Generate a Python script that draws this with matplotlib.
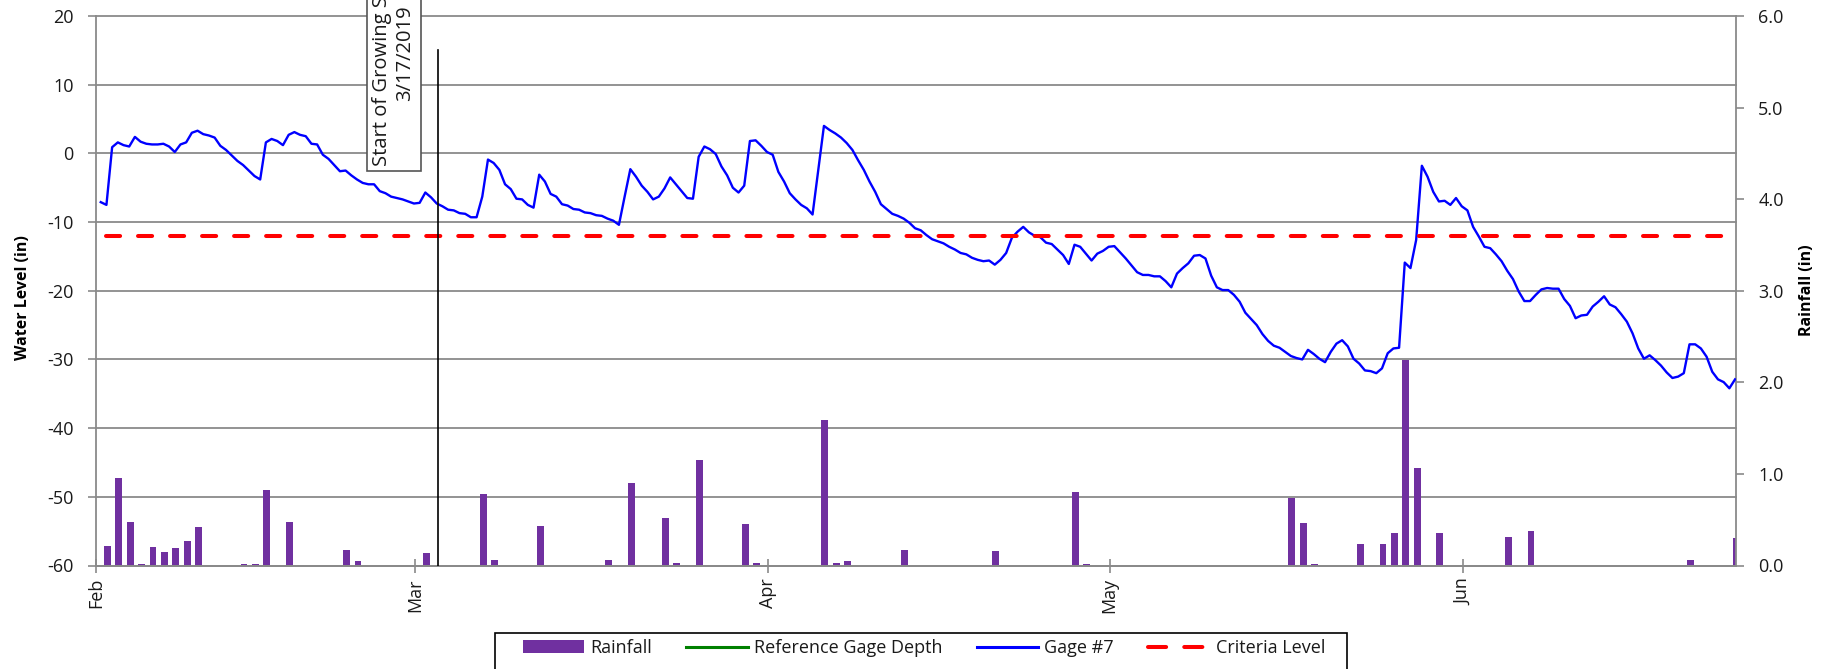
import numpy as np
import pandas as pd
import matplotlib
matplotlib.use("Agg")
import matplotlib.pyplot as plt
import matplotlib.dates as mdates
import matplotlib.transforms as mtransforms
from matplotlib.lines import Line2D
from matplotlib.patches import Patch, Rectangle

plt.rcParams["font.family"] = ["Open Sans", "DejaVu Sans"]
plt.rcParams["axes.unicode_minus"] = False

# Gage #7 water level (in), half-day readings from Feb 1 2019
gage_start = "2019-02-01 10:00"
gage_level = [
    -7.1, -7.5, 0.9, 1.6, 1.2, 1.0, 2.4, 1.7, 1.4, 1.3,
    1.3, 1.4, 1.0, 0.2, 1.3, 1.6, 3.0, 3.3, 2.8, 2.6,
    2.3, 1.1, 0.5, -0.3, -1.1, -1.7, -2.5, -3.3, -3.8, 1.6,
    2.1, 1.8, 1.2, 2.7, 3.1, 2.7, 2.5, 1.4, 1.3, -0.2,
    -0.8, -1.7, -2.6, -2.5, -3.2, -3.8, -4.3, -4.5, -4.5, -5.5,
    -5.8, -6.3, -6.5, -6.7, -7.0, -7.3, -7.2, -5.7, -6.4, -7.3,
    -7.7, -8.2, -8.3, -8.7, -8.8, -9.3, -9.3, -6.3, -0.9, -1.4,
    -2.4, -4.5, -5.2, -6.6, -6.7, -7.5, -7.9, -3.1, -4.1, -5.9,
    -6.3, -7.4, -7.6, -8.1, -8.2, -8.6, -8.7, -9.0, -9.1, -9.5,
    -9.8, -10.4, -6.3, -2.3, -3.4, -4.7, -5.6, -6.7, -6.3, -5.1,
    -3.5, -4.5, -5.5, -6.5, -6.6, -0.5, 1.0, 0.6, -0.1, -1.9,
    -3.2, -5.0, -5.7, -4.7, 1.8, 1.9, 1.1, 0.2, -0.2, -2.7,
    -4.1, -5.8, -6.7, -7.5, -8.0, -8.9, -2.4, 4.0, 3.4, 2.9,
    2.3, 1.5, 0.5, -1.0, -2.4, -4.1, -5.6, -7.4, -8.1, -8.8,
    -9.1, -9.5, -10.1, -10.9, -11.2, -11.9, -12.5, -12.8, -13.1, -13.6,
    -14.0, -14.5, -14.7, -15.2, -15.5, -15.7, -15.6, -16.2, -15.5, -14.5,
    -12.3, -11.4, -10.7, -11.5, -12.0, -12.2, -13.0, -13.2, -14.0, -14.8,
    -16.1, -13.3, -13.6, -14.6, -15.6, -14.6, -14.2, -13.6, -13.5, -14.4,
    -15.3, -16.3, -17.3, -17.7, -17.7, -17.9, -17.9, -18.6, -19.5, -17.5,
    -16.7, -16.0, -14.9, -14.8, -15.3, -17.8, -19.5, -19.9, -19.9, -20.6,
    -21.6, -23.2, -24.1, -25.0, -26.3, -27.3, -28.0, -28.3, -28.9, -29.5,
    -29.8, -30.0, -28.6, -29.2, -29.9, -30.4, -28.9, -27.7, -27.2, -28.1,
    -29.9, -30.6, -31.6, -31.7, -32.0, -31.3, -29.1, -28.4, -28.3, -15.9,
    -16.7, -12.6, -1.8, -3.4, -5.6, -7.0, -6.9, -7.5, -6.5, -7.7,
    -8.3, -10.7, -12.1, -13.6, -13.8, -14.7, -15.7, -17.1, -18.3, -20.1,
    -21.5, -21.5, -20.6, -19.8, -19.6, -19.7, -19.7, -21.2, -22.2, -24.0,
    -23.6, -23.5, -22.3, -21.6, -20.8, -22.0, -22.4, -23.4, -24.5, -26.2,
    -28.4, -29.9, -29.4, -30.1, -30.9, -31.9, -32.7, -32.5, -32.0, -27.8,
    -27.8, -28.4, -29.6, -31.8, -32.9, -33.3, -34.2, -32.9,
]

# daily rainfall (in)
rain_dates = [
    "2019-02-02", "2019-02-03", "2019-02-04", "2019-02-05", "2019-02-06",
    "2019-02-07", "2019-02-08", "2019-02-09", "2019-02-10", "2019-02-11",
    "2019-02-14", "2019-02-15", "2019-02-16", "2019-02-18", "2019-02-19",
    "2019-02-23", "2019-02-24", "2019-03-02", "2019-03-07", "2019-03-08",
    "2019-03-12", "2019-03-18", "2019-03-20", "2019-03-23", "2019-03-24",
    "2019-03-26", "2019-03-30", "2019-03-31", "2019-04-06", "2019-04-07",
    "2019-04-08", "2019-04-13", "2019-04-21", "2019-04-28", "2019-04-29",
    "2019-05-17", "2019-05-18", "2019-05-19", "2019-05-23", "2019-05-24",
    "2019-05-25", "2019-05-26", "2019-05-27", "2019-05-28", "2019-05-30",
    "2019-06-05", "2019-06-07", "2019-06-21", "2019-06-25",
]
rain_in = [
    0.21, 0.95, 0.47, 0.02, 0.20,
    0.15, 0.19, 0.27, 0.42, 0.01,
    0.02, 0.02, 0.82, 0.48, 0.01,
    0.17, 0.05, 0.14, 0.78, 0.06,
    0.43, 0.06, 0.90, 0.52, 0.03,
    1.15, 0.45, 0.03, 1.59, 0.03,
    0.05, 0.17, 0.16, 0.80, 0.02,
    0.74, 0.46, 0.02, 0.24, 0.01,
    0.235, 0.35, 2.24, 1.07, 0.35,
    0.31, 0.38, 0.06, 0.30,
]

criteria_level = -12
criteria_span = ["2019-02-01 22:00", "2019-06-25 00:00"]
season_date = "2019-03-03"
season_top = 15
season_label = "Start of Growing Season\n3/17/2019"

x_range = ["2019-02-01", "2019-06-25"]
month_ticks = ["2019-02-01", "2019-03-01", "2019-04-01", "2019-05-01", "2019-06-01"]
left_ticks = list(range(-60, 30, 10))
right_ticks = [0, 1, 2, 3, 4, 5, 6]

purple = "#7030A0"
gray = "#8a8a8a"
txt = "#1a1a1a"

W, H = 1839, 669
fig = plt.figure(figsize=(W / 100, H / 100), dpi=100)
ax1 = fig.add_axes([96 / W, 1 - 565.5 / H, (1736 - 96) / W, (565.5 - 16) / H])
ax2 = ax1.twinx()
ax2.set_zorder(1)
ax1.set_zorder(2)
ax1.patch.set_visible(False)

# horizontal grid on the left scale, drawn behind the bars
grid_tr = mtransforms.blended_transform_factory(ax2.transAxes, ax1.transData)
for v in left_ticks:
    ax2.plot([0, 1], [v, v], transform=grid_tr, color=gray, lw=1.3, zorder=0.5, clip_on=False)

ax2.bar(pd.to_datetime(rain_dates), rain_in, width=0.6, color=purple, zorder=2)

times = pd.date_range(gage_start, periods=len(gage_level), freq="12h")
ax1.plot(times, gage_level, color="#0000FF", lw=1.7, zorder=3)
ax1.plot(pd.to_datetime(criteria_span), [criteria_level] * 2, color="#FF0000", lw=2.9,
         dashes=(3.5, 4.45), dash_capstyle="round", zorder=3)
sd = pd.to_datetime(season_date)
ax1.plot([sd, sd], [left_ticks[0], season_top], color="black", lw=1.2, zorder=4)

ax1.set_xlim(pd.to_datetime(x_range[0]), pd.to_datetime(x_range[1]))
ax1.set_ylim(-60, 20)
ax2.set_ylim(0, 6)

ax1.set_yticks(left_ticks)
ax1.set_xticks(pd.to_datetime(month_ticks))
ax1.xaxis.set_major_formatter(mdates.DateFormatter("%b"))
ax2.set_yticks(right_ticks)
ax2.set_yticklabels(["{:.1f}".format(v) for v in right_ticks])

ax1.tick_params(axis="y", direction="out", length=6, width=1.2, color=gray, pad=10,
                labelsize=13, labelcolor=txt)
ax2.tick_params(axis="y", direction="out", length=6, width=1.2, color=gray, pad=10,
                labelsize=13, labelcolor=txt)
ax1.tick_params(axis="x", direction="inout", length=10, width=1.2, color=gray, pad=4,
                labelsize=13, labelcolor=txt, labelrotation=90)

for ax in (ax1, ax2):
    ax.spines["top"].set_visible(False)
    for s in ("left", "right", "bottom"):
        ax.spines[s].set_color(gray)
        ax.spines[s].set_linewidth(1.3)
ax1.spines["right"].set_visible(False)
ax2.spines["left"].set_visible(False)

fig.text(23 / W, 1 - 298 / H, "Water Level (in)", rotation=90, ha="center", va="center",
         fontsize=11.5, fontweight="bold", color="black")
fig.text(1807 / W, 1 - 290 / H, "Rainfall (in)", rotation=90, ha="center", va="center",
         fontsize=11.5, fontweight="bold", color="black")

fig.text(394 / W, 1 - 53 / H, season_label, rotation=90, ha="center", va="center",
         multialignment="center", fontsize=14.5, color=txt, zorder=10,
         bbox=dict(boxstyle="square,pad=0.25", fc="white", ec="#555555", lw=1.2))

handles = [
    Patch(facecolor=purple),
    Line2D([], [], color="#008000", lw=2.2),
    Line2D([], [], color="#0000FF", lw=2.2),
    Line2D([], [], color="#FF0000", lw=2.9, dashes=(4.5, 4.5), dash_capstyle="round"),
]
labels = ["Rainfall", "Reference Gage Depth", "Gage #7", "Criteria Level"]
fig.legend(handles, labels, loc="center", bbox_to_anchor=(924 / W, 1 - 648 / H), ncol=4,
           frameon=False, fontsize=13, handlelength=3.4, handletextpad=0.35,
           columnspacing=1.9, labelcolor=txt)
fig.add_artist(Rectangle((495 / W, -0.05), (1347 - 495) / W, (H - 633) / H + 0.05,
                         transform=fig.transFigure, fill=False, ec="black", lw=1.2))

fig.savefig("out.png", dpi=100)
